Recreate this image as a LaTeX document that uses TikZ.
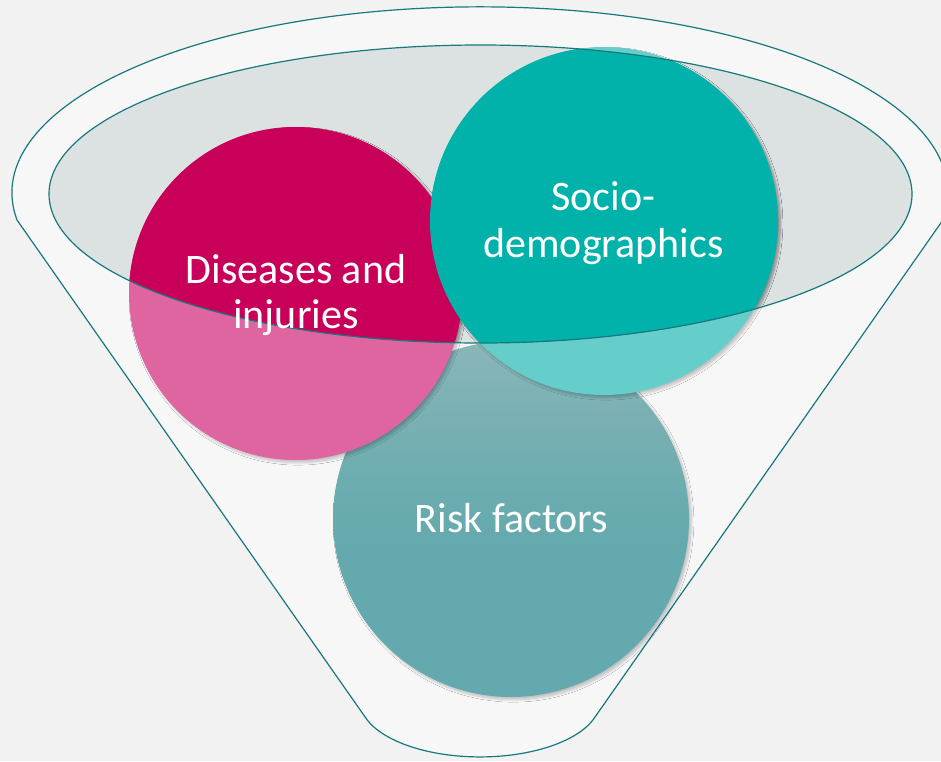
\documentclass[tikz,border=0pt]{standalone}
\usepackage{fontspec}
\setmainfont{Carlito}
\usetikzlibrary{shadows.blur}
\definecolor{bg}{HTML}{F2F2F2}
\definecolor{funnelfill}{HTML}{F7F7F7}
\definecolor{ellfill}{HTML}{DCE2E2}
\definecolor{edge}{HTML}{17787D}
\definecolor{pinkdark}{HTML}{C8005A}
\definecolor{pinklight}{HTML}{DF65A0}
\definecolor{tealdark}{HTML}{00B2A9}
\definecolor{teallight}{HTML}{66CECA}
\definecolor{risktop}{HTML}{8AB6B9}
\definecolor{riskA}{HTML}{79B0B3}
\definecolor{riskB}{HTML}{6CADB0}
\definecolor{riskbot}{HTML}{63A9AD}
\pgfdeclareverticalshading{riskshade}{100bp}{color(0bp)=(riskbot); color(25bp)=(riskbot); color(45bp)=(riskbot); color(55bp)=(riskB); color(64bp)=(riskA); color(75bp)=(risktop); color(100bp)=(risktop)}
\tikzset{
  outline/.style={draw=edge, line width=0.9pt},
  shad/.style={blur shadow={shadow xshift=1.8pt, shadow yshift=-2pt, shadow opacity=22, shadow blur radius=1.8pt, shadow blur steps=8}},
  lbl/.style={text=white, inner sep=0pt, anchor=base, font=\fontsize{31.5}{36}\selectfont}
}
\begin{document}
\begin{tikzpicture}[x=0.75pt,y=-0.75pt]
\useasboundingbox (0,0) rectangle (941,761);
\clip (0,0) rectangle (941,761);
\fill[bg] (0,0) rectangle (941,761);
% funnel body
\fill[funnelfill] (17,220) arc[start angle=171.6, end angle=368.4, x radius=468, y radius=186]
  -- (595,717) arc[start angle=16.7, end angle=163.3, x radius=120, y radius=56] -- cycle;
% inner ellipse
\fill[ellfill] (480.5,194) ellipse [x radius=431.5, y radius=149];
% risk factors circle
\path[shad, shading=riskshade] (511,519) circle [radius=178];
% light parts (outside the ellipse)
\fill[shad, pinklight] (295.5,293.5) circle [radius=166.5];
\fill[shad, teallight] (604,221) circle [radius=174];
% vivid parts (inside the ellipse)
\begin{scope}
  \clip (480.5,194) ellipse [x radius=431.5, y radius=149];
  \fill[shad, pinkdark] (295.5,293.5) circle [radius=166.5];
  \fill[shad, tealdark] (604,221) circle [radius=174];
\end{scope}
% outlines
\draw[outline] (17,220) arc[start angle=171.6, end angle=368.4, x radius=468, y radius=186]
  -- (595,717) arc[start angle=16.7, end angle=163.3, x radius=120, y radius=56] -- cycle;
\draw[outline] (480.5,194) ellipse [x radius=431.5, y radius=149];
% labels
\node[lbl] (d1) at (296,283) {Diseases and};
\node[lbl] (d2) at (296,328) {injuries};
\node[lbl] (s1) at (603.5,210) {Socio-};
\node[lbl] (s2) at (603.5,257) {demographics};
\node[lbl] (r1) at (511.5,532) {Risk factors};
\end{tikzpicture}
\end{document}
